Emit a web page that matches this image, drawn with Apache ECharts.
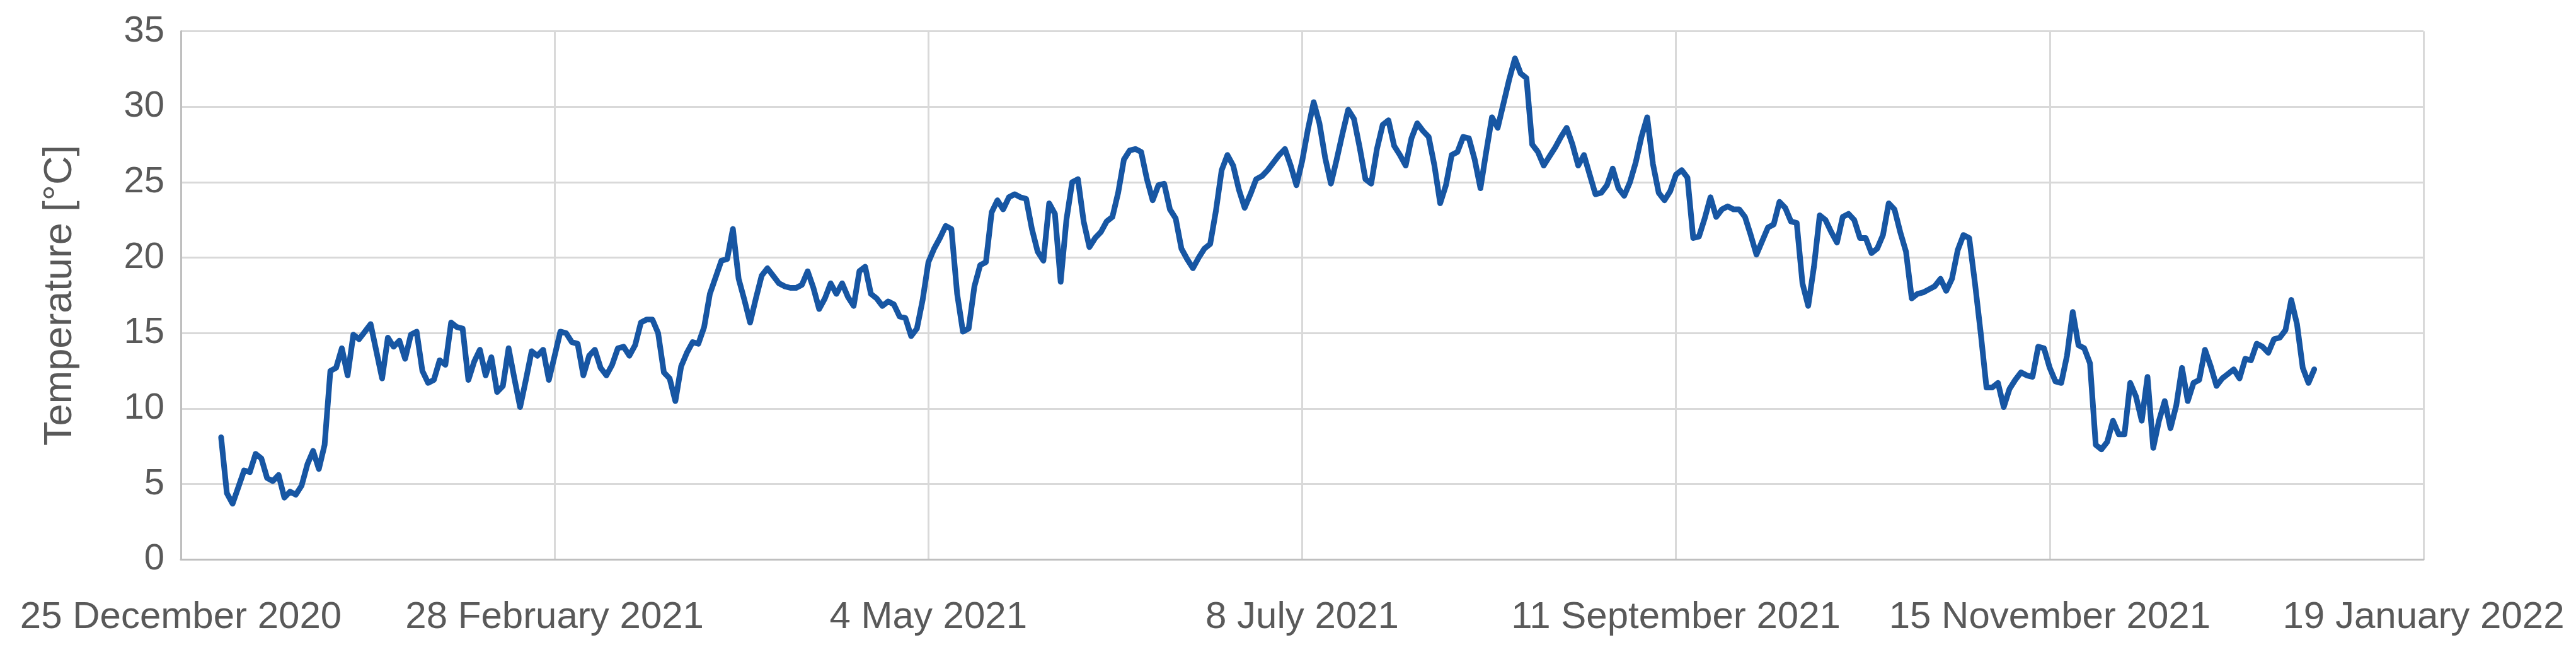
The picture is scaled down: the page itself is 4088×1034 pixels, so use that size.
<!DOCTYPE html>
<html>
<head>
<meta charset="utf-8">
<title>Temperature 2021</title>
<script src="https://cdn.jsdelivr.net/npm/echarts@6/dist/echarts.min.js"></script>
<style>
    html, body { margin: 0; padding: 0; background: #fff; }
    #main { width: 4088px; height: 1034px; }
</style>
</head>
<body>
<div id="main"></div>
<script>
// daily temperature in 2021, one array per month
var jan = [8.1, 4.4, 3.7, 4.8, 5.9, 5.8, 7.0, 6.7, 5.4, 5.2, 5.6, 4.1, 4.5, 4.3, 4.9, 6.3, 7.2, 6.0, 7.6, 12.5, 12.7, 14.0, 12.2, 14.9, 14.6, 15.1, 15.6, 13.8, 12.0, 14.7, 14.1];
var feb = [14.5, 13.3, 14.9, 15.1, 12.5, 11.7, 11.9, 13.2, 12.9, 15.7, 15.4, 15.3, 11.9, 13.1, 13.9, 12.2, 13.4, 11.1, 11.5, 14.0, 12.0, 10.1, 11.9, 13.8, 13.5, 13.9, 11.9, 13.5];
var mar = [15.1, 15.0, 14.4, 14.3, 12.2, 13.5, 13.9, 12.7, 12.2, 12.9, 14.0, 14.1, 13.5, 14.2, 15.7, 15.9, 15.9, 15.0, 12.4, 12.0, 10.5, 12.8, 13.7, 14.4, 14.3, 15.4, 17.6, 18.7, 19.8, 19.9, 21.9];
var apr = [18.6, 17.2, 15.7, 17.3, 18.8, 19.3, 18.8, 18.3, 18.1, 18.0, 18.0, 18.2, 19.1, 18.0, 16.6, 17.3, 18.3, 17.6, 18.3, 17.4, 16.8, 19.1, 19.4, 17.6, 17.3, 16.8, 17.1, 16.9, 16.1, 16.0];
var may = [14.8, 15.3, 17.2, 19.7, 20.6, 21.3, 22.1, 21.9, 17.6, 15.1, 15.3, 18.1, 19.5, 19.7, 23.0, 23.8, 23.2, 24.0, 24.2, 24.0, 23.9, 21.9, 20.4, 19.8, 23.6, 22.9, 18.4, 22.5, 25.0, 25.2, 22.4];
var jun = [20.7, 21.3, 21.7, 22.4, 22.7, 24.3, 26.5, 27.1, 27.2, 27.0, 25.2, 23.8, 24.8, 24.9, 23.2, 22.6, 20.6, 19.9, 19.3, 20.0, 20.6, 20.9, 23.1, 25.8, 26.8, 26.1, 24.5, 23.3, 24.2, 25.2];
var jul = [25.4, 25.8, 26.3, 26.8, 27.2, 26.1, 24.8, 26.4, 28.5, 30.3, 28.9, 26.6, 24.9, 26.5, 28.2, 29.8, 29.2, 27.3, 25.2, 24.9, 27.2, 28.8, 29.1, 27.4, 26.8, 26.1, 27.9, 28.9, 28.4, 28.0, 26.1];
var aug = [23.6, 24.8, 26.8, 27.0, 28.0, 27.9, 26.5, 24.6, 27.0, 29.3, 28.6, 30.2, 31.8, 33.2, 32.2, 31.9, 27.5, 27.0, 26.1, 26.7, 27.3, 28.0, 28.6, 27.5, 26.1, 26.8, 25.5, 24.2, 24.3, 24.8, 25.9];
var sep = [24.6, 24.1, 25.0, 26.3, 28.0, 29.3, 26.2, 24.3, 23.8, 24.4, 25.5, 25.8, 25.3, 21.3, 21.4, 22.6, 24.0, 22.7, 23.2, 23.4, 23.2, 23.2, 22.7, 21.5, 20.2, 21.1, 22.0, 22.2, 23.7, 23.3];
var oct = [22.4, 22.3, 18.3, 16.8, 19.4, 22.8, 22.5, 21.7, 21.0, 22.7, 22.9, 22.5, 21.3, 21.3, 20.3, 20.6, 21.5, 23.6, 23.2, 21.7, 20.4, 17.3, 17.6, 17.7, 17.9, 18.1, 18.6, 17.8, 18.6, 20.5, 21.5];
var nov = [21.3, 18.3, 15.0, 11.4, 11.4, 11.7, 10.1, 11.3, 11.9, 12.4, 12.2, 12.1, 14.1, 14.0, 12.7, 11.8, 11.7, 13.5, 16.4, 14.2, 14.0, 13.0, 7.6, 7.3, 7.8, 9.2, 8.3, 8.3, 11.7, 10.8];
var dec = [9.2, 12.1, 7.4, 9.2, 10.5, 8.7, 10.2, 12.7, 10.5, 11.7, 11.9, 13.9, 12.8, 11.5, 12.0, 12.3, 12.6, 12.0, 13.3, 13.2, 14.3, 14.1, 13.7, 14.6, 14.7, 15.2, 17.2, 15.6, 12.7, 11.7, 12.6];

// x axis tick labels (every 65 days from 25 Dec 2020)
var xTickLabels = ['25 December 2020', '28 February 2021', '4 May 2021', '8 July 2021', '11 September 2021', '15 November 2021', '19 January 2022'];
var yTicks = [0, 5, 10, 15, 20, 25, 30, 35];

//立即执行函数
(function () {
    var months = [jan, feb, mar, apr, may, jun, jul, aug, sep, oct, nov, dec];
    var start = Date.UTC(2020, 11, 25);
    var oneDay = 86400000;

    //把每天的温度转换成 [距离25 Dec 2020的天数, 温度]
    var data = [];
    months.forEach(function (arr, m) {
        arr.forEach(function (v, i) {
            var d = (Date.UTC(2021, m, i + 1) - start) / oneDay;
            data.push([d, v]);
        });
    });

    var step = 65;
    var font = 'Liberation Sans';

    //实例化对象
    var myChart = echarts.init(document.getElementById('main'));
    //指定配置项和数据
    var option = {
        animation: false,
        backgroundColor: '#ffffff',
        grid: {
            left: 287,
            right: 242,
            top: 49.5,
            bottom: 146.6,
            containLabel: false
        },
        xAxis: {
            type: 'value',
            min: 0,
            max: step * (xTickLabels.length - 1),
            interval: step,
            axisLine: {
                show: true,
                lineStyle: { color: '#bfbfbf', width: 3 }
            },
            axisTick: { show: false },
            axisLabel: {
                fontFamily: font,
                fontSize: 60,
                color: '#595959',
                margin: 62,
                showMinLabel: true,
                showMaxLabel: true,
                formatter: function (val) {
                    return xTickLabels[Math.round(val / step)] || '';
                }
            },
            splitLine: {
                show: true,
                lineStyle: { color: '#d9d9d9', width: 3 }
            }
        },
        yAxis: {
            type: 'value',
            min: yTicks[0],
            max: yTicks[yTicks.length - 1],
            interval: yTicks[1] - yTicks[0],
            name: 'Temperature [°C]',
            nameLocation: 'middle',
            nameRotate: 90,
            nameGap: 160,
            nameTextStyle: {
                fontFamily: font,
                fontSize: 63,
                color: '#595959'
            },
            axisLine: {
                show: true,
                lineStyle: { color: '#bfbfbf', width: 3 }
            },
            axisTick: { show: false },
            axisLabel: {
                fontFamily: font,
                fontSize: 58,
                color: '#595959',
                margin: 26
            },
            splitLine: {
                show: true,
                lineStyle: { color: '#d9d9d9', width: 3 }
            }
        },
        series: [
            {
                name: 'Temperature',
                type: 'line',
                data: data,
                showSymbol: false,
                smooth: false,
                lineStyle: {
                    color: '#1756a3',
                    width: 9,
                    join: 'round',
                    cap: 'round'
                },
                itemStyle: { color: '#1756a3' }
            }
        ]
    };

    // 使用刚指定的配置项和数据显示图表。
    myChart.setOption(option);

    //让图表跟随屏幕自适应
    window.addEventListener("resize", function () {
        myChart.resize();
    });
})();
</script>
</body>
</html>
